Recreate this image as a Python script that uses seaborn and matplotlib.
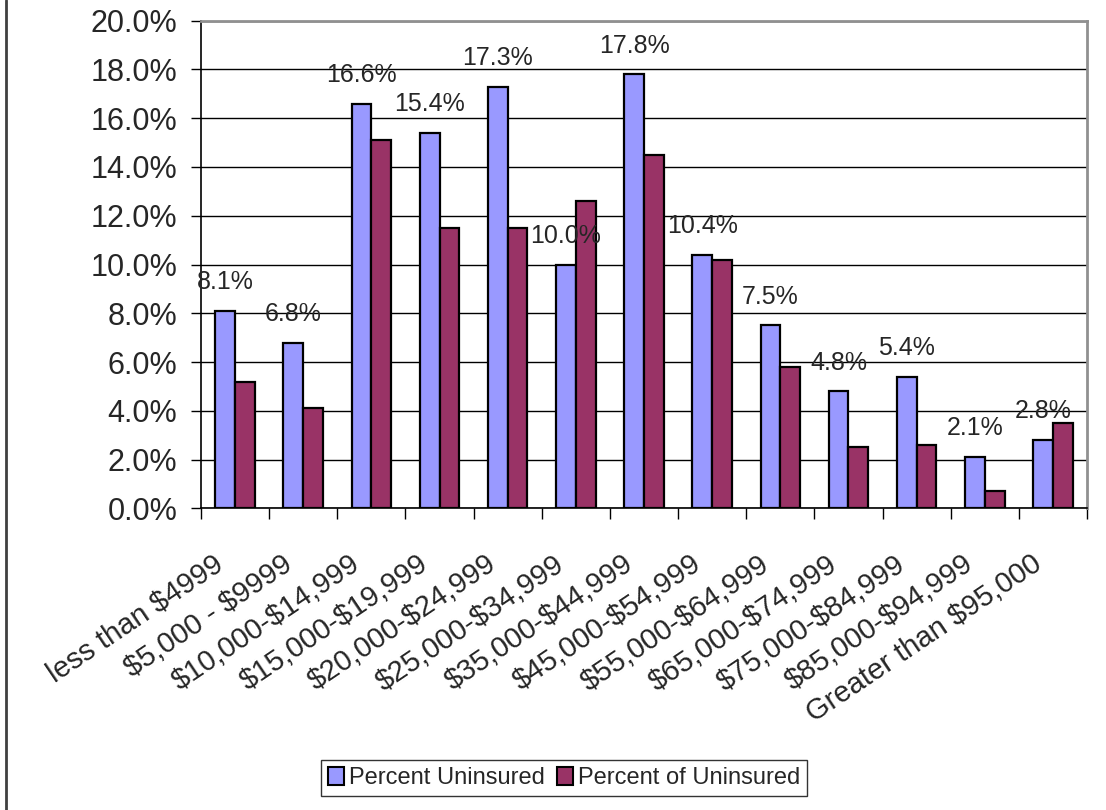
import matplotlib
matplotlib.use("Agg")
import matplotlib.pyplot as plt
import matplotlib.patches as mpatches
import matplotlib.lines as mlines
import matplotlib.transforms as mtransforms
from matplotlib.ticker import FixedLocator, PercentFormatter
import seaborn as sns
import pandas as pd

# Income brackets and the two series (percent)
categories = ["less than $4999", "$5,000 - $9999", "$10,000-$14,999", "$15,000-$19,999",
              "$20,000-$24,999", "$25,000-$34,999", "$35,000-$44,999", "$45,000-$54,999",
              "$55,000-$64,999", "$65,000-$74,999", "$75,000-$84,999", "$85,000-$94,999",
              "Greater than $95,000"]
pct_uninsured = [8.1, 6.8, 16.6, 15.4, 17.3, 10.0, 17.8, 10.4, 7.5, 4.8, 5.4, 2.1, 2.8]
pct_of_uninsured = [5.2, 4.1, 15.1, 11.5, 11.5, 12.6, 14.5, 10.2, 5.8, 2.5, 2.6, 0.7, 3.5]
series = ["Percent Uninsured", "Percent of Uninsured"]
colors = ["#9999FF", "#993366"]

df = pd.DataFrame({
    "bracket": categories * 2,
    "value": pct_uninsured + pct_of_uninsured,
    "series": [series[0]] * len(categories) + [series[1]] * len(categories),
})

sns.set_style("white")
plt.rcParams["font.family"] = ["Liberation Sans", "DejaVu Sans"]
plt.rcParams["text.parse_math"] = False

fig = plt.figure(figsize=(11.06, 8.10), dpi=100)
ax = fig.add_axes([0.1817, 0.3725, 0.8011, 0.6019])

sns.barplot(data=df, x="bracket", y="value", hue="series",
            palette=colors, saturation=1, width=0.58, gap=0,
            edgecolor="black", linewidth=1.6, ax=ax, legend=False)

# labels over the blue bars
ax.bar_label(ax.containers[0], labels=[f"{v:.1f}%" for v in pct_uninsured],
             padding=12, fontsize=18)

ax.set_ylim(0, 20)
ax.set_xlim(-0.5, len(categories) - 0.5)
ax.yaxis.set_major_locator(FixedLocator([i * 2 for i in range(11)]))
ax.yaxis.set_major_formatter(PercentFormatter(decimals=1))
ax.grid(axis="y", color="black", linewidth=1)
ax.set_axisbelow(True)
ax.set_xlabel("")
ax.set_ylabel("")

ax.tick_params(axis="y", labelsize=22, direction="out", length=7, width=1, pad=10,
               left=True, color="black")
ax.tick_params(axis="x", which="major", labelsize=21, length=0, pad=30)
ax.xaxis.set_minor_locator(FixedLocator([i - 0.5 for i in range(len(categories) + 1)]))
ax.tick_params(axis="x", which="minor", direction="out", length=8, width=1, bottom=True, color="black")
shift = mtransforms.ScaledTranslation(-22 / 100, 0, fig.dpi_scale_trans)
for lab in ax.get_xticklabels():
    lab.set_rotation(34)
    lab.set_ha("right")
    lab.set_va("top")
    lab.set_rotation_mode("anchor")
    lab.set_transform(lab.get_transform() + shift)

for side in ["left", "bottom"]:
    ax.spines[side].set_color("black")
    ax.spines[side].set_linewidth(1.2)
for side in ["top", "right"]:
    ax.spines[side].set_color("#909090")
    ax.spines[side].set_linewidth(2)

handles = [mpatches.Patch(facecolor=c, edgecolor="black", linewidth=1.5, label=s)
           for c, s in zip(colors, series)]
leg = fig.legend(handles=handles, loc="center", bbox_to_anchor=(0.51, 0.0395), ncol=2,
                 fontsize=17, frameon=True, fancybox=False, handlelength=0.7,
                 handleheight=0.8, handletextpad=0.2, columnspacing=0.5, borderpad=0.3)
leg.get_frame().set_edgecolor("black")
leg.get_frame().set_linewidth(1)

# left edge of the chart frame
fig.lines.append(mlines.Line2D([5.5 / 1106, 5.5 / 1106], [0, 1], transform=fig.transFigure,
                               color="#404040", linewidth=2))

fig.savefig("out.png", dpi=100)
